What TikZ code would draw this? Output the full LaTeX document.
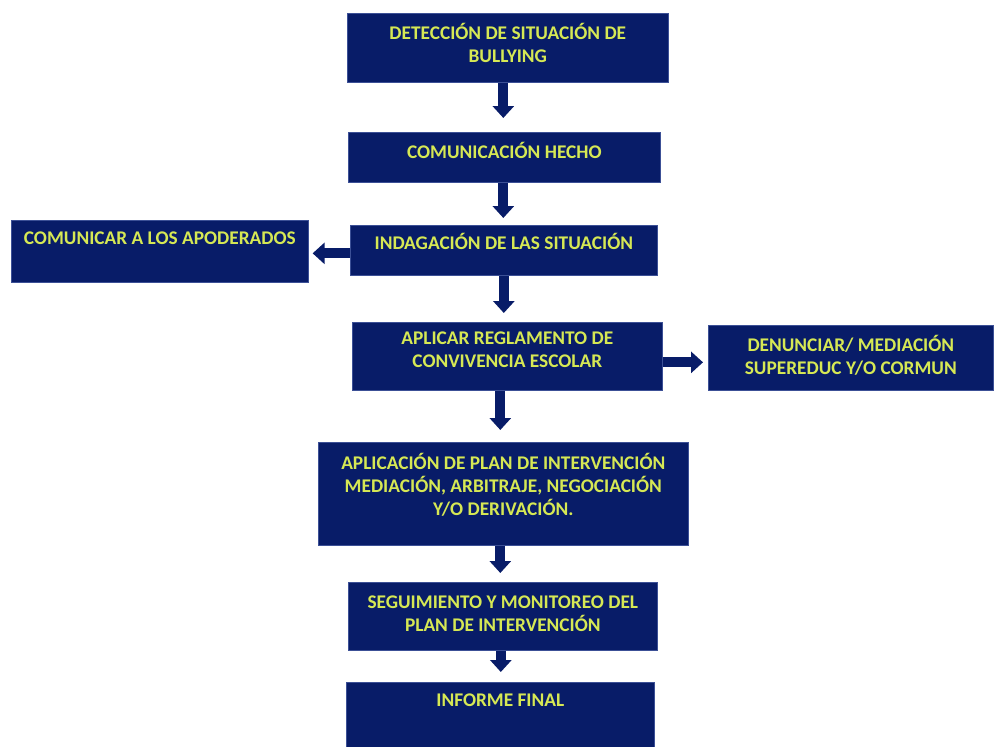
\documentclass[tikz,border=0pt]{standalone}
\usepackage{fontspec}
\setmainfont{Carlito}
\usepackage{tikz}
\usetikzlibrary{positioning}
\usetikzlibrary{arrows.meta}
\usetikzlibrary{calc}
\definecolor{boxblue}{RGB}{8,28,104}
\definecolor{boxedge}{RGB}{60,80,150}
\definecolor{txtgreen}{RGB}{214,232,84}
\tikzset{
	stepbox/.style={draw=boxedge, line width=0.4pt, rectangle, fill=boxblue, text=txtgreen, inner sep=0pt, anchor=north west, align=center, font=\fontsize{11}{13}\selectfont\bfseries},
	% side boxes off the main line
	sidebox/.style={stepbox},
	flow/.style={draw=boxblue, line width=0.2cm, -{Triangle[width=0.42cm, length=0.24cm]}},
}

\begin{document}
\begin{tikzpicture}[x=0.02cm, y=-0.02cm]
			\useasboundingbox (0,0) rectangle (995,747);
			
			\node (det) [stepbox, minimum width=6.42cm, text height=0.98cm, text depth=0.4cm] at (347,13) {DETECCIÓN DE SITUACIÓN DE\\BULLYING};
			\node (com) [stepbox, minimum width=6.24cm, text height=0.52cm, text depth=0.48cm] at (348,132) {COMUNICACIÓN HECHO};
			\node (ind) [stepbox, minimum width=6.14cm, text height=0.48cm, text depth=0.52cm] at (350,225) {INDAGACIÓN DE LAS SITUACIÓN};
			\node (apo) [sidebox, minimum width=5.94cm, text height=0.48cm, text depth=0.76cm] at (11,220) {COMUNICAR A LOS APODERADOS};
			\node (reg) [stepbox, minimum width=6.2cm, text height=0.9cm, text depth=0.46cm] at (352,322) {APLICAR REGLAMENTO DE\\CONVIVENCIA ESCOLAR};
			\node (den) [sidebox, minimum width=5.7cm, text height=0.98cm, text depth=0.32cm] at (708,325) {DENUNCIAR/ MEDIACIÓN\\SUPEREDUC Y/O CORMUN};
			\node (plan) [stepbox, minimum width=7.4cm, text height=1.46cm, text depth=0.6cm] at (318,442) {APLICACIÓN DE PLAN DE INTERVENCIÓN\\MEDIACIÓN, ARBITRAJE, NEGOCIACIÓN\\Y/O DERIVACIÓN.};
			\node (seg) [stepbox, minimum width=6.18cm, text height=0.98cm, text depth=0.38cm] at (348,582) {SEGUIMIENTO Y MONITOREO DEL\\PLAN DE INTERVENCIÓN};
			\node (inf) [stepbox, minimum width=6.16cm, text height=0.48cm, text depth=0.82cm] at (346,682) {INFORME FINAL};
			
			\begin{scope}[flow]
				\draw ([xshift=-0.09cm]det.south) -- ([xshift=-0.09cm]det.south |- com.north) [shorten >=0.28cm];
				\draw ([xshift=-0.02cm]com.south) -- ([xshift=-0.02cm]com.south |- ind.north) [shorten >=0.14cm];
				\draw (ind.south) -- (ind.south |- reg.north) [shorten >=0.18cm];
				\draw ([yshift=-0.06cm]ind.west) -- ([yshift=-0.06cm]ind.west -| apo.east) [shorten >=0.08cm];
				\draw ([yshift=-0.12cm]reg.east) -- ([yshift=-0.12cm]reg.east -| den.west) [shorten >=0.1cm];
				\draw ([xshift=-0.14cm]reg.south) -- ([xshift=-0.14cm]reg.south |- plan.north) [shorten >=0.24cm];
				\draw ([xshift=-0.06cm]plan.south) -- ([xshift=-0.06cm]plan.south |- seg.north) [shorten >=0.18cm];
				\draw ([xshift=-0.04cm]seg.south) -- ([xshift=-0.04cm]seg.south |- inf.north) [shorten >=0.2cm];
			\end{scope}
			
\end{tikzpicture}
\end{document}
